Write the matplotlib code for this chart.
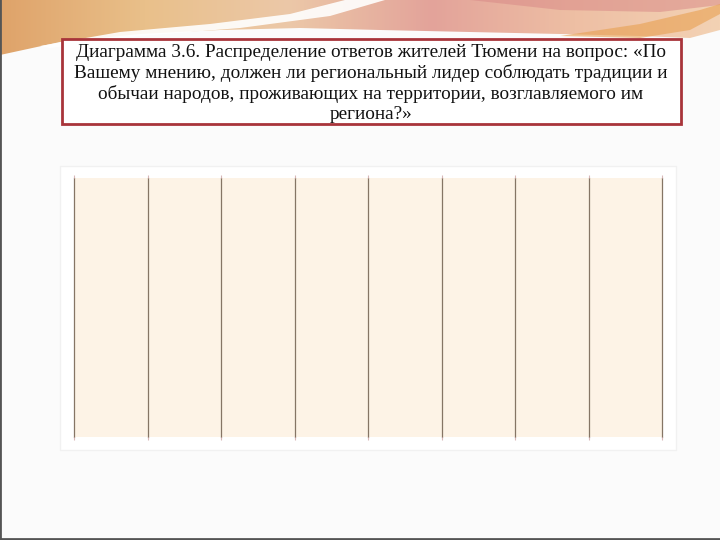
import matplotlib
matplotlib.use('Agg')
import matplotlib.pyplot as plt
import numpy as np
from matplotlib.patches import Polygon, Rectangle
from matplotlib.colors import LinearSegmentedColormap

# chart content (the reference chart is empty: only the grid is shown)
title = ('Диаграмма 3.6. Распределение ответов жителей Тюмени на вопрос: «По\n'
         'Вашему мнению, должен ли региональный лидер соблюдать традиции и\n'
         'обычаи народов, проживающих на территории, возглавляемого им\n'
         'региона?»')
categories = []
values = []
grid_ticks = [0, 1, 2, 3, 4, 5, 6, 7, 8]

fig = plt.figure(figsize=(7.2, 5.4), dpi=100)
fig.patch.set_facecolor('#fbfbfb')

# slide background / decoration, in pixel coordinates
bg = fig.add_axes([0, 0, 1, 1])
bg.set_xlim(0, 720)
bg.set_ylim(540, 0)
bg.axis('off')

# top gradient band
grad = np.linspace(0, 1, 256).reshape(1, -1)
band_cmap = LinearSegmentedColormap.from_list(
    'band', ['#dfa36a', '#e9c08a', '#ecc8a8', '#e3a39a', '#eebfa4', '#f3d2b4'])
img = bg.imshow(grad, cmap=band_cmap, extent=(0, 720, 60, 0), aspect='auto', zorder=1)
clip = Polygon([(0, 0), (720, 0), (720, 30), (690, 38), (640, 36), (560, 34),
                (470, 32), (380, 30), (300, 28), (220, 30), (140, 34),
                (60, 42), (0, 55)], closed=True, transform=bg.transData)
img.set_clip_path(clip)

# white swoosh
bg.add_patch(Polygon([(40, 46), (120, 32), (210, 24), (290, 14), (345, 0),
                      (385, 0), (330, 16), (240, 28), (140, 36), (50, 48)],
                     closed=True, facecolor='white', edgecolor='none', alpha=0.9, zorder=2))
bg.add_patch(Polygon([(335, 0), (470, 0), (560, 10), (660, 12), (720, 5), (720, 0)],
                     closed=True, facecolor='#d98a88', edgecolor='none', alpha=0.55, zorder=2))
bg.add_patch(Polygon([(560, 36), (640, 24), (700, 10), (720, 4), (720, 14), (690, 30), (640, 38)],
                     closed=True, facecolor='#e8a050', edgecolor='none', alpha=0.6, zorder=2))
bg.plot([0, 0], [0, 540], color='#555555', lw=2, zorder=3)
bg.plot([0, 720], [539, 539], color='#555555', lw=2, zorder=3)

# title box
bg.add_patch(Rectangle((62, 39), 619, 85, facecolor='white', edgecolor='#a8343a',
                       lw=2, zorder=4))
bg.text(371, 83.5, title, ha='center', va='center', fontsize=13.9,
        family='Liberation Serif', linespacing=1.22, color='#111111', zorder=5)

# chart frame
bg.add_patch(Rectangle((60, 166), 616, 284, facecolor='white', edgecolor='#f1f1f1',
                       lw=1, zorder=4))

ax = fig.add_axes([74 / 720, 1 - 437 / 540, 588 / 720, 259 / 540], zorder=5)
ax.set_facecolor('#fdf3e6')
ax.barh(categories, values, color='#c0504d')
ax.set_xlim(grid_ticks[0], grid_ticks[-1])
ax.set_ylim(0, 1)
ax.set_xticks(grid_ticks)
ax.set_yticks([])
ax.set_xticklabels([])
ax.tick_params(axis='x', which='both', top=True, bottom=True, direction='out',
               length=2, color='#d9b8b8')
ax.grid(axis='x', color='#857565', lw=0.9)
for gl in ax.get_xgridlines():
    gl.set_clip_on(False)
for s in ax.spines.values():
    s.set_visible(False)

fig.savefig('out.png', dpi=100, facecolor=fig.get_facecolor())
